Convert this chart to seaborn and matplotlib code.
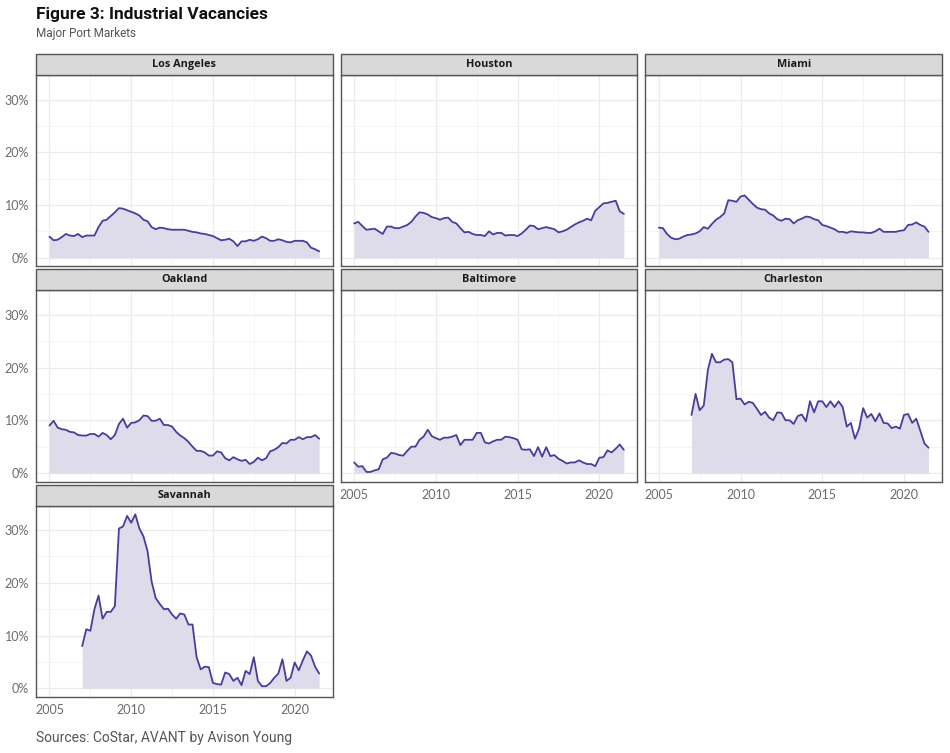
import matplotlib
matplotlib.use("Agg")
import matplotlib.pyplot as plt
from matplotlib.patches import Rectangle
from matplotlib.ticker import FuncFormatter, MultipleLocator
import numpy as np
import pandas as pd
import seaborn as sns

markets = ["Los Angeles", "Houston", "Miami", "Oakland", "Baltimore", "Charleston", "Savannah"]

# quarterly vacancy rates (%), 2005Q1 (or 2007Q1) through 2021Q3
los_angeles = [4.0, 3.3, 3.4, 3.9, 4.5, 4.2, 4.1, 4.5, 3.9, 4.2, 4.2, 4.2,
               5.8, 7.0, 7.2, 7.9, 8.6, 9.4, 9.3, 9.0, 8.7, 8.4, 8.0, 7.2,
               6.9, 5.8, 5.4, 5.7, 5.6, 5.4, 5.3, 5.3, 5.3, 5.3, 5.1, 4.9,
               4.8, 4.6, 4.5, 4.3, 4.1, 3.7, 3.3, 3.4, 3.6, 3.1, 2.2, 3.1,
               3.1, 3.4, 3.2, 3.5, 4.0, 3.7, 3.2, 3.2, 3.5, 3.3, 3.0, 2.9,
               3.2, 3.2, 3.2, 2.9, 1.9, 1.6, 1.2]
houston = [6.5, 6.8, 6.0, 5.3, 5.4, 5.5, 5.0, 4.5, 5.9, 5.9, 5.6, 5.6,
           5.9, 6.2, 6.8, 7.8, 8.6, 8.5, 8.2, 7.7, 7.5, 7.2, 7.5, 7.6,
           6.8, 6.5, 5.6, 4.8, 4.9, 4.5, 4.3, 4.3, 4.1, 5.0, 4.4, 4.7,
           4.7, 4.2, 4.3, 4.3, 4.1, 4.6, 5.3, 6.1, 6.0, 5.4, 5.6, 5.8,
           5.6, 5.4, 4.8, 5.0, 5.3, 5.8, 6.3, 6.7, 7.0, 7.4, 7.1, 8.9,
           9.6, 10.3, 10.4, 10.6, 10.8, 8.8, 8.3]
miami = [5.7, 5.6, 4.5, 3.8, 3.5, 3.6, 4.0, 4.3, 4.4, 4.6, 5.0, 5.8,
         5.5, 6.4, 7.2, 7.7, 8.4, 10.9, 10.8, 10.6, 11.6, 11.8, 11.0, 10.2,
         9.5, 9.2, 9.1, 8.4, 8.0, 7.3, 7.0, 7.4, 7.3, 6.5, 7.1, 7.4,
         7.8, 7.7, 7.3, 7.1, 6.2, 6.0, 5.7, 5.4, 4.9, 4.9, 4.7, 5.0,
         4.9, 4.8, 4.8, 4.7, 4.7, 5.0, 5.5, 4.9, 4.9, 4.9, 4.9, 5.1,
         5.2, 6.2, 6.3, 6.7, 6.2, 5.9, 4.9]
oakland = [9.0, 9.9, 8.6, 8.3, 8.2, 7.8, 7.7, 7.2, 7.1, 7.1, 7.4, 7.4,
           6.9, 7.6, 7.2, 6.4, 7.2, 9.3, 10.3, 8.6, 9.5, 9.6, 10.0, 10.9,
           10.8, 9.9, 9.9, 10.3, 9.1, 9.1, 8.8, 7.8, 7.1, 6.6, 5.9, 5.0,
           4.2, 4.2, 3.9, 3.3, 3.3, 4.1, 3.9, 2.8, 2.4, 3.0, 2.6, 2.3,
           2.5, 1.7, 2.1, 2.9, 2.4, 2.8, 4.1, 4.4, 4.9, 5.7, 5.6, 6.3,
           6.3, 6.8, 6.4, 6.8, 6.8, 7.2, 6.5]
baltimore = [2.0, 1.2, 1.3, 0.2, 0.2, 0.5, 0.7, 2.6, 2.9, 3.8, 3.7, 3.4,
             3.3, 4.2, 5.0, 5.0, 6.3, 6.9, 8.2, 7.0, 6.6, 6.3, 6.7, 6.7,
             6.9, 7.2, 5.3, 6.3, 6.3, 6.3, 7.6, 7.6, 5.8, 5.6, 6.0, 6.3,
             6.3, 6.9, 6.8, 6.6, 6.3, 4.5, 4.4, 4.5, 3.2, 4.9, 3.1, 4.9,
             3.2, 3.4, 2.7, 2.3, 1.8, 2.0, 2.0, 2.4, 2.0, 1.7, 1.7, 1.3,
             2.9, 3.0, 4.3, 3.9, 4.6, 5.4, 4.4]
charleston = [11.0, 15.0, 11.9, 12.8, 19.5, 22.6, 21.0, 21.0, 21.5, 21.6, 21.0, 14.0,
              14.1, 13.0, 13.5, 13.3, 12.2, 11.0, 11.6, 10.5, 10.0, 11.5, 11.4, 10.0,
              10.0, 9.3, 10.8, 11.1, 9.8, 13.6, 11.5, 13.6, 13.6, 12.5, 13.6, 12.5,
              13.6, 12.5, 8.8, 9.5, 6.5, 8.4, 12.3, 10.5, 11.2, 9.8, 11.3, 9.5,
              9.4, 8.5, 8.8, 8.4, 11.0, 11.2, 9.5, 10.3, 8.0, 5.6, 4.8]
savannah = [8.0, 11.2, 10.9, 15.0, 17.6, 13.2, 14.5, 14.5, 15.6, 30.3, 30.7, 32.7,
            31.4, 33.0, 30.3, 28.8, 26.0, 20.2, 17.1, 16.0, 15.0, 15.1, 14.0, 13.2,
            14.2, 14.0, 12.1, 12.1, 5.9, 3.6, 4.1, 4.0, 1.0, 0.8, 0.7, 3.0,
            2.7, 1.4, 2.0, 0.6, 3.3, 2.7, 5.9, 1.4, 0.4, 0.4, 1.0, 2.0,
            2.8, 5.5, 1.4, 2.0, 4.9, 3.4, 5.3, 7.0, 6.2, 4.1, 2.8]

quarters = pd.period_range("2005Q1", "2021Q3", freq="Q")
year_frac = np.asarray(quarters.year + (quarters.quarter - 1) / 4.0)

series = [los_angeles, houston, miami, oakland, baltimore, charleston, savannah]
frames = []
for name, vals in zip(markets, series):
    # every series ends in 2021Q3, the shorter ones start in 2007
    frames.append(pd.DataFrame({"market": name,
                                "year": year_frac[-len(vals):],
                                "vacancy": vals}))
df = pd.concat(frames, ignore_index=True)

LINE = "#4B3C98"
FILL = "#DEDCEB"

sns.set_theme(style="white")
plt.rcParams["font.family"] = ["Lato", "DejaVu Sans"]


def area(data, color=None, **kws):
    ax = plt.gca()
    ax.fill_between(data["year"], 0, data["vacancy"], color=FILL, lw=0, zorder=1)


g = sns.FacetGrid(df, col="market", col_order=markets, col_wrap=3,
                  sharex=True, sharey=True, despine=False, height=2.5, aspect=1.4)
g.map_dataframe(area)
g.map_dataframe(sns.lineplot, x="year", y="vacancy", color=LINE, lw=1.3, zorder=3)
g.set_axis_labels("", "")
g.set_titles("")

for ax, name in zip(g.axes.flat, markets):
    ax.set_xlim(2004.175, 2022.325)
    ax.set_ylim(-1.65, 34.65)
    ax.xaxis.set_major_locator(MultipleLocator(5))
    ax.xaxis.set_minor_locator(MultipleLocator(2.5))
    ax.yaxis.set_major_locator(MultipleLocator(10))
    ax.yaxis.set_minor_locator(MultipleLocator(5))
    ax.yaxis.set_major_formatter(FuncFormatter(lambda v, p: f"{v:.0f}%"))
    ax.xaxis.set_major_formatter(FuncFormatter(lambda v, p: f"{v:.0f}"))
    ax.grid(True, which="major", color="#EBEBEB", lw=0.9)
    ax.grid(True, which="minor", color="#F3F3F3", lw=0.6)
    ax.set_axisbelow(True)
    ax.tick_params(which="major", length=3, width=0.8, color="#555555",
                   labelcolor="#6b6b6b", labelsize=9, pad=2)
    ax.tick_params(which="minor", length=0)
    for s in ax.spines.values():
        s.set_color("#555555")
        s.set_linewidth(1.0)
    # grey facet strip on top of each panel
    strip_h = 0.109
    ax.add_patch(Rectangle((0, 1), 1, strip_h, transform=ax.transAxes,
                           facecolor="#D9D9D9", edgecolor="#555555", lw=1.0,
                           clip_on=False, zorder=5))
    ax.text(0.5, 1 + strip_h / 2, name, transform=ax.transAxes, ha="center",
            va="center", fontsize=7.8, fontweight="bold", color="#1a1a1a",
            family=["Open Sans", "DejaVu Sans"], zorder=6)

fig = g.figure
fig.set_size_inches(9.5, 7.53)
fig.subplots_adjust(left=36 / 950, right=942 / 950, top=1 - 75 / 753,
                    bottom=1 - 697 / 753, wspace=8 / 297, hspace=24 / 192)

fig.text(36 / 950, 1 - 14 / 753, "Figure 3: Industrial Vacancies", ha="left",
         va="center", fontsize=12.5, fontweight="bold", color="#111111",
         family=["Roboto", "DejaVu Sans"])
fig.text(36 / 950, 1 - 33 / 753, "Major Port Markets", ha="left", va="center",
         fontsize=8.5, color="#555555", family=["Roboto", "DejaVu Sans"])
fig.text(36 / 950, 1 - 738 / 753, "Sources: CoStar, AVANT by Avison Young",
         ha="left", va="center", fontsize=10, color="#555555",
         family=["Roboto", "DejaVu Sans"])

fig.savefig("out.png", dpi=100, facecolor="white")
